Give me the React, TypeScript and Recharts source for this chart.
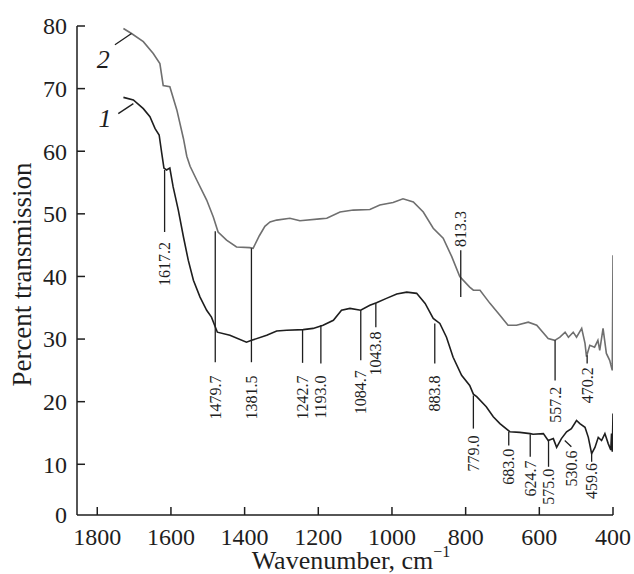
import React from 'react';
import { LineChart, Line, XAxis, YAxis, ReferenceLine, ReferenceDot } from 'recharts';

const FONT = '"Liberation Serif", "Times New Roman", Times, serif';
const INK = '#1e1e1e';
const GREY = '#6f6f6f';

// Curve 2 (upper, grey)
const wavenumbers2 = [
  1729, 1707, 1675, 1648, 1630, 1621, 1603, 1584, 1566, 1557, 1548, 1530, 1503, 1485, 1472, 1449,
  1422, 1386, 1377, 1360, 1345, 1331, 1313, 1277, 1250, 1196, 1177, 1141, 1105, 1060, 1033, 997,
  970, 942, 915, 888, 861, 838, 816, 789, 779, 761, 734, 707, 685, 662, 630, 607, 576, 558, 544,
  530, 521, 508, 499, 485, 476, 472, 463, 450, 441, 436, 427, 418, 409, 402, 400,
];
const transmission2 = [
  79.6, 78.8, 77.5, 75.6, 74.0, 70.5, 70.3, 66.6, 62.0, 59.2, 57.6, 55.4, 52.2, 49.5, 47.1, 45.8,
  44.7, 44.6, 44.5, 46.5, 48.0, 48.7, 49.0, 49.3, 48.9, 49.2, 49.3, 50.3, 50.6, 50.7, 51.4, 51.8,
  52.4, 51.9, 50.3, 47.7, 46.1, 43.2, 40.0, 38.3, 37.8, 37.8, 35.7, 33.8, 32.2, 32.2, 32.7, 32.2,
  30.1, 29.8, 30.3, 31.1, 30.3, 31.1, 30.3, 31.7, 29.3, 27.2, 29.0, 28.7, 29.8, 28.2, 31.7, 27.7,
  26.6, 25.0, 43.4,
];

// Curve 1 (lower, black)
const wavenumbers1 = [
  1729, 1702, 1675, 1657, 1643, 1632, 1625, 1619, 1612, 1603, 1594, 1580, 1566, 1553, 1539, 1521,
  1503, 1490, 1474, 1440, 1395, 1381, 1340, 1313, 1286, 1241, 1214, 1187, 1159, 1137, 1114, 1085,
  1060, 1042, 1015, 987, 960, 933, 910, 888, 870, 852, 834, 811, 789, 779, 770, 744, 725, 707, 680,
  653, 625, 617, 589, 576, 562, 553, 540, 526, 513, 499, 490, 476, 467, 458, 449, 440, 431, 422,
  413, 406, 404, 402, 400,
];
const transmission1 = [
  68.6, 68.2, 66.8, 65.5, 63.6, 62.6, 59.7, 57.3, 57.0, 57.3, 54.3, 50.6, 46.3, 42.6, 39.4, 36.7,
  34.6, 33.5, 31.1, 30.6, 29.5, 29.8, 30.6, 31.3, 31.4, 31.5, 31.7, 32.2, 33.0, 34.6, 34.9, 34.6,
  35.4, 35.8, 36.5, 37.2, 37.5, 37.3, 35.7, 33.3, 32.5, 30.3, 27.1, 24.2, 22.6, 21.2, 20.8, 19.2,
  17.6, 16.5, 15.2, 15.1, 14.9, 14.8, 14.9, 13.8, 14.1, 12.7, 14.1, 15.2, 15.7, 17.0, 16.5, 15.9,
  14.3, 11.7, 12.7, 14.3, 13.8, 14.9, 13.3, 12.3, 14.9, 12.0, 18.1,
];

const xTicks = [1800, 1600, 1400, 1200, 1000, 800, 600, 400];
const yTicks = [1.9, 10, 20, 30, 40, 50, 60, 70, 80];
const yTickLabels = ['0', '10', '20', '30', '40', '50', '60', '70', '80'];

// Peak marks: line from (topX, top) to (bottomX, bottom), label ending at labelAt
const peakLabels = ['1617.2', '1479.7', '1381.5', '1242.7', '1193.0', '1084.7', '1043.8', '883.8',
  '779.0', '683.0', '624.7', '575.0', '530.6', '459.6', '557.2', '470.2', '813.3'];
const peakTopX = [1617.2, 1479.7, 1381.5, 1242.7, 1193.0, 1084.7, 1043.8, 883.8, 779.0, 683.0,
  624.7, 575.0, 531, 458, 557.2, 470.2, 813.3];
const peakBottomX = [1617.2, 1479.7, 1381.5, 1242.7, 1193.0, 1084.7, 1043.8, 883.8, 779.0, 683.0,
  624.7, 575.0, 513, 458, 557.2, 470.2, 813.3];
const peakTop = [57.0, 47.2, 44.5, 31.5, 32.2, 34.6, 35.7, 32.5, 21.0, 15.2, 14.8, 13.8, 13.8, 11.7,
  29.8, 27.4, 44.2];
const peakBottom = [47.1, 26.3, 26.3, 26.2, 26.1, 26.6, 31.9, 26.1, 15.7, 13.0, 11.2, 9.6, 12.8, 10.4,
  23.4, 26.1, 36.7];
const peakLabelAt = [45.5, 24.2, 24.2, 24.2, 24.2, 25.0, 31.2, 24.2, 14.6, 12.5, 10.6, 9.3, 12.2, 10.2,
  22.4, 25.5, 44.7];
const peakLabelAbove = [false, false, false, false, false, false, false, false, false, false, false,
  false, false, false, false, false, true];

// Curve numbers with their leader strokes
const curveNames = ['1', '2'];
const curveNameX = [1779, 1784];
const curveNameY = [63.9, 73.3];
const leaderFromX = [1743, 1752];
const leaderFromY = [66.0, 77.0];
const leaderToX = [1702, 1707];
const leaderToY = [67.6, 78.8];

const series1 = wavenumbers1.map((w, i) => ({ w, t: transmission1[i] }));
const series2 = wavenumbers2.map((w, i) => ({ w, t: transmission2[i] }));

const XTick = (props: any) => {
  const { x, y, payload } = props;
  return (
    <g>
      <line x1={x} y1={y} x2={x} y2={y - 8} stroke={INK} strokeWidth={1.5} />
      <text x={x} y={y + 30} textAnchor="middle" fontSize={24} fontFamily={FONT} fill={INK}>
        {payload.value}
      </text>
    </g>
  );
};

const YTick = (props: any) => {
  const { x, y, payload } = props;
  const i = yTicks.indexOf(payload.value);
  return (
    <g>
      {i > 0 && <line x1={x} y1={y} x2={x + 8} y2={y} stroke={INK} strokeWidth={1.5} />}
      <text x={x - 10} y={y} dy="0.35em" textAnchor="end" fontSize={24} fontFamily={FONT} fill={INK}>
        {yTickLabels[i] ?? payload.value}
      </text>
    </g>
  );
};

const XTitle = (props: any) => {
  const { viewBox } = props;
  const cx = viewBox.x + viewBox.width / 2 + 6;
  return (
    <text x={cx} y={viewBox.y + 54} textAnchor="middle" fontSize={26} fontFamily={FONT} fill={INK}>
      Wavenumber, cm
      <tspan fontSize={16} dy={-12}>−1</tspan>
    </text>
  );
};

const YTitle = (props: any) => {
  const { viewBox } = props;
  const cx = viewBox.x + 31;
  const cy = viewBox.y + viewBox.height / 2 + 4;
  return (
    <text x={cx} y={cy} transform={`rotate(-90 ${cx} ${cy})`} textAnchor="middle" fontSize={27}
      fontFamily={FONT} fill={INK}>
      Percent transmission
    </text>
  );
};

export default function App() {
  return (
    <div style={{ position: 'absolute', left: 0, top: 0 }}>
      <LineChart width={634} height={574} margin={{ top: 26, right: 21, left: 0, bottom: 0 }}>
        <XAxis
          type="number"
          dataKey="w"
          domain={[400, 1855]}
          reversed
          allowDataOverflow
          ticks={xTicks}
          tick={<XTick />}
          tickLine={false}
          tickSize={0}
          tickMargin={0}
          height={59}
          axisLine={{ stroke: INK, strokeWidth: 1.5 }}
          label={XTitle}
        />
        <YAxis
          type="number"
          domain={[1.9, 80]}
          allowDataOverflow
          ticks={yTicks}
          tick={<YTick />}
          tickLine={false}
          tickSize={0}
          tickMargin={0}
          width={77}
          axisLine={{ stroke: INK, strokeWidth: 1.5 }}
          label={YTitle}
        />
        <Line data={series2} dataKey="t" type="linear" stroke={GREY} strokeWidth={1.6} dot={false}
          isAnimationActive={false} />
        <Line data={series1} dataKey="t" type="linear" stroke={INK} strokeWidth={1.6} dot={false}
          isAnimationActive={false} />
        {peakLabels.map((label, i) => (
          <ReferenceLine
            key={`pl-${label}`}
            segment={[{ x: peakTopX[i], y: peakTop[i] }, { x: peakBottomX[i], y: peakBottom[i] }]}
            stroke={INK}
            strokeWidth={1.3}
            ifOverflow="visible"
          />
        ))}
        {peakLabels.map((label, i) => (
          <ReferenceDot
            key={`pt-${label}`}
            x={peakBottomX[i]}
            y={peakLabelAt[i]}
            r={0}
            ifOverflow="visible"
            shape={(p: any) => (
              <text x={p.cx} y={p.cy} dy="0.35em" transform={`rotate(-90 ${p.cx} ${p.cy})`}
                textAnchor={peakLabelAbove[i] ? 'start' : 'end'} fontSize={16} fontFamily={FONT} fill={INK}>
                {label}
              </text>
            )}
          />
        ))}
        {curveNames.map((name, i) => (
          <ReferenceLine
            key={`cl-${name}`}
            segment={[{ x: leaderFromX[i], y: leaderFromY[i] }, { x: leaderToX[i], y: leaderToY[i] }]}
            stroke={INK}
            strokeWidth={1.3}
            ifOverflow="visible"
          />
        ))}
        {curveNames.map((name, i) => (
          <ReferenceDot
            key={`cn-${name}`}
            x={curveNameX[i]}
            y={curveNameY[i]}
            r={0}
            ifOverflow="visible"
            shape={(p: any) => (
              <text x={p.cx} y={p.cy} textAnchor="middle" fontSize={26} fontStyle="italic"
                fontFamily={FONT} fill={INK}>
                {name}
              </text>
            )}
          />
        ))}
      </LineChart>
    </div>
  );
}
